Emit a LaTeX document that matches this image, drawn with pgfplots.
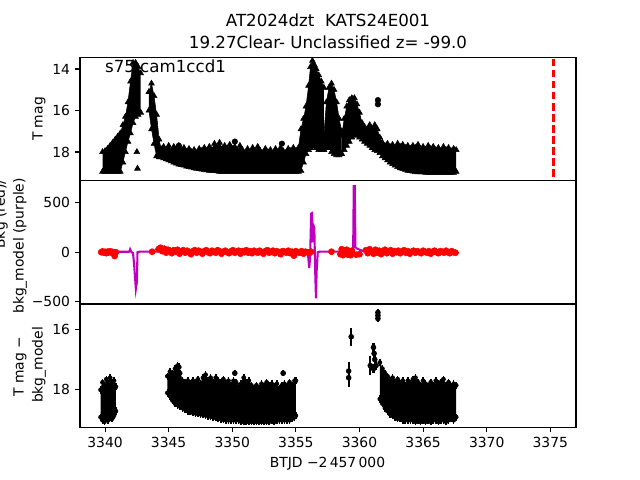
\documentclass[border=0pt]{standalone}
\usepackage{fontspec}
\setmainfont{DejaVu Sans}
\usepackage{pgfplots}
\pgfplotsset{compat=1.18}
\usepgfplotslibrary{fillbetween}
\usepackage{pgfplotstable}

\definecolor{mplm}{RGB}{191,0,191}

% panel 1: T mag, top/bottom envelope of the dense parts
\pgfplotstableread{
x t b
3339.8 18.0 18.95
3340.0 17.95 18.95
3340.2 17.85 18.95
3340.4 17.7 18.95
3340.6 17.55 18.95
3340.8 17.4 18.95
3341.0 17.25 18.95
3341.2 17.1 18.95
3341.4 16.7 18.5
3341.6 16.3 18.0
3341.8 15.6 17.5
3342.0 14.6 17.1
3342.2 13.7 16.6
3342.4 13.7 16.3
3342.6 13.9 16.2
3342.8 14.2 16.1
}\PoneA

\pgfplotstableread{
x t b
3343.45 15.1 16.0
3343.65 14.7 16.9
3343.85 15.3 17.6
3344.05 16.2 18.2
3344.25 17.4 18.25
3344.4 17.85 18.25
3344.6 17.75 18.3
3344.8 17.9 18.35
3345.0 17.7 18.4
3345.2 17.95 18.45
3345.4 17.75 18.5
3345.6 17.85 18.55
3345.8 17.7 18.6
3346.0 17.95 18.62
3346.2 17.8 18.65
3346.4 18.0 18.7
3346.6 17.85 18.72
3346.8 18.0 18.75
3347.0 17.9 18.78
3347.2 18.05 18.8
3347.4 17.85 18.82
3347.6 17.95 18.84
3347.8 17.8 18.86
3348.0 17.95 18.88
3348.2 17.75 18.9
3348.4 17.9 18.9
3348.6 17.6 18.92
3348.8 17.8 18.93
3349.0 17.55 18.95
3349.2 17.85 18.95
3349.4 17.7 18.95
3349.6 17.9 18.95
3349.8 17.65 18.95
3350.0 17.85 18.95
3350.2 17.75 18.95
3350.4 17.95 18.95
3350.6 17.7 18.95
3350.8 17.9 18.95
3351.0 18.05 18.95
3351.2 17.85 18.95
3351.4 18.1 18.95
3351.6 17.8 18.95
3351.8 18.0 18.95
3352.0 17.75 18.95
3352.2 17.95 18.95
3352.4 18.05 18.95
3352.6 17.85 18.95
3352.8 18.0 18.95
3353.0 17.9 18.95
3353.2 18.1 18.95
3353.4 17.85 18.95
3353.6 18.0 18.95
3353.8 17.8 18.95
3354.0 17.95 18.95
3354.2 18.05 18.95
3354.4 17.85 18.95
3354.6 17.95 18.95
3354.8 17.8 18.95
3355.0 17.95 18.95
3355.2 17.8 18.95
3355.4 16.9 18.9
3355.6 16.4 18.5
3355.8 15.8 18.1
3356.0 14.8 17.9
3356.15 13.9 17.8
3356.3 13.6 17.7
3356.45 13.8 17.7
3356.6 14.0 17.8
3356.8 14.3 17.9
3357.0 14.6 17.9
3357.2 14.9 17.9
}\PoneB

\pgfplotstableread{
x t b
3357.2 17.2 17.9
3357.4 15.6 17.8
3357.6 14.9 17.8
3357.8 14.7 18.0
3358.0 15.0 18.1
3358.2 15.6 18.15
3358.4 16.4 18.15
3358.6 17.0 18.1
}\PoneC

\pgfplotstableread{
x t b
3358.6 17.2 18.1
3358.8 16.4 17.9
3359.0 15.8 17.7
3359.2 15.5 17.5
3359.4 15.4 17.3
3359.6 15.4 17.2
3359.8 15.7 17.2
3360.0 16.1 17.3
3360.2 16.6 17.4
3360.4 16.8 17.5
3360.6 16.9 17.6
3360.8 16.7 17.7
3361.0 16.9 17.8
3361.2 16.7 17.9
3361.4 16.9 17.95
3361.6 17.3 18.05
3361.8 17.55 18.2
3362.0 17.7 18.3
3362.2 17.6 18.4
3362.4 17.75 18.5
3362.6 17.65 18.58
3362.8 17.8 18.65
3363.0 17.6 18.72
3363.2 17.75 18.78
3363.4 17.65 18.82
3363.6 17.8 18.86
3363.8 17.7 18.9
3364.0 17.85 18.92
3364.2 17.7 18.94
3364.4 17.8 18.96
3364.6 17.65 18.97
3364.8 17.85 18.98
3365.0 17.75 18.98
3365.2 17.9 19.0
3365.4 17.7 19.0
3365.6 17.85 19.0
3365.8 17.75 19.0
3366.0 17.9 19.0
3366.2 17.8 19.0
3366.4 17.95 19.0
3366.6 17.75 19.0
3366.8 17.9 19.0
3367.0 17.8 19.0
3367.2 17.95 19.0
3367.4 17.85 19.0
3367.6 17.9 18.95
}\PoneD

% panel 2: background flux (red)
\pgfplotstableread{
x y
3339.7 0
3339.8 8
3339.9 -5
3340.0 4
3340.1 -10
3340.2 6
3340.3 -2
3340.4 10
3340.5 -4
3340.6 3
3340.75 -38
3340.85 0
3343.7 5
3344.20 30
3344.35 45
3344.50 10
3344.65 35
3344.80 -5
3344.95 25
3345.10 15
3345.25 -10
3345.40 20
3345.55 5
3345.70 25
3345.85 -15
3346.00 10
3346.15 20
3346.30 -5
3346.45 15
3346.60 0
3346.75 -20
3346.90 10
3347.05 20
3347.20 -5
3347.35 15
3347.50 5
3347.65 -15
3347.80 10
3347.95 20
3348.10 0
3348.25 -10
3348.40 15
3348.55 5
3348.70 -5
3348.85 20
3349.00 10
3349.15 -15
3349.30 5
3349.45 15
3349.60 0
3349.75 -10
3349.90 10
3350.05 20
3350.20 -5
3350.35 5
3350.50 15
3350.65 -15
3350.80 10
3350.95 0
3351.10 20
3351.25 -5
3351.40 10
3351.55 -10
3351.70 15
3351.85 5
3352.00 -5
3352.15 15
3352.30 0
3352.45 -15
3352.60 10
3352.75 20
3352.90 -5
3353.05 5
3353.20 15
3353.35 -10
3353.50 10
3353.65 0
3353.80 -20
3353.95 10
3354.10 5
3354.25 -5
3354.40 15
3354.55 -10
3354.70 5
3354.85 -35
3355.00 10
3355.15 0
3355.30 -5
3355.45 10
3355.60 -15
3355.75 5
3355.90 0
3356.05 -10
3356.20 5
3357.8 5
3358.5 -20
3358.6 30
3358.7 -30
3358.8 20
3358.9 -10
3359.0 25
3359.1 -25
3359.2 10
3359.3 -30
3359.4 15
3359.75 -25
3360.0 -20
3360.50 20
3360.65 -10
3360.80 30
3360.95 5
3361.10 -15
3361.25 25
3361.40 -5
3361.55 15
3361.70 -20
3361.85 10
3362.00 25
3362.15 -10
3362.30 5
3362.45 20
3362.60 -15
3362.75 10
3362.90 0
3363.05 15
3363.20 -10
3363.35 5
3363.50 20
3363.65 -5
3363.80 10
3363.95 -15
3364.10 5
3364.25 15
3364.40 -5
3364.55 10
3364.70 0
3364.85 -10
3365.00 15
3365.15 5
3365.30 -5
3365.45 10
3365.60 -15
3365.75 5
3365.90 15
3366.05 0
3366.20 -10
3366.35 10
3366.50 5
3366.65 -5
3366.80 15
3366.95 0
3367.10 -10
3367.25 10
3367.40 0
3367.55 -5
}\Pred

% panel 3: T mag - bkg_model, envelopes of the dense parts
\pgfplotstableread{
x t b
3339.65 18.0 18.9
3339.8 17.75 19.0
3339.95 17.9 19.05
3340.1 17.65 18.95
3340.25 17.8 19.0
3340.4 17.6 18.9
3340.55 17.75 18.95
3340.7 17.7 18.85
3340.85 17.9 18.7
}\PthrL

\pgfplotstableread{
x t b
3344.9 17.55 18.1
3345.1 17.4 18.2
3345.3 17.45 18.35
3345.5 17.3 18.45
3345.7 17.2 18.5
3345.9 17.45 18.55
3346.1 17.7 18.6
3346.3 17.75 18.65
3346.5 17.7 18.7
3346.7 17.8 18.72
3346.9 17.7 18.75
3347.1 17.75 18.77
3347.3 17.65 18.79
3347.5 17.8 18.8
3347.7 17.6 18.82
3347.9 17.5 18.84
3348.1 17.7 18.86
3348.3 17.6 18.88
3348.5 17.75 18.9
3348.7 17.6 18.92
3348.9 17.7 18.94
3349.1 17.75 18.96
3349.3 17.65 18.98
3349.5 17.8 19.0
3349.7 17.7 19.0
3349.9 17.85 19.0
3350.1 17.7 19.0
3350.3 17.75 19.0
3350.5 17.9 19.0
3350.7 17.8 19.05
3350.9 17.6 19.05
3351.1 17.75 19.05
3351.3 17.7 19.05
3351.5 17.85 19.05
3351.7 17.95 19.05
3351.9 17.85 19.05
3352.1 17.95 19.05
3352.3 17.8 19.05
3352.5 17.9 19.05
3352.7 17.75 19.05
3352.9 17.85 19.05
3353.1 17.8 19.0
3353.3 17.9 19.05
3353.5 17.8 19.0
3353.7 17.95 19.0
3353.9 17.85 19.0
3354.1 17.8 19.0
3354.3 17.9 19.0
3354.5 17.75 19.0
3354.7 17.85 18.95
3354.9 17.7 18.9
3355.0 17.7 18.85
}\PthrM

\pgfplotstableread{
x t b
3361.6 17.1 18.3
3361.8 17.3 18.45
3362.0 17.45 18.6
3362.2 17.55 18.7
3362.4 17.7 18.8
3362.6 17.6 18.85
3362.8 17.75 18.9
3363.0 17.65 18.95
3363.2 17.8 18.95
3363.4 17.7 19.0
3363.6 17.85 19.0
3363.8 17.7 19.0
3364.0 17.8 19.0
3364.2 17.65 19.0
3364.4 17.6 19.05
3364.6 17.75 19.0
3364.8 17.85 19.05
3365.0 17.7 19.0
3365.2 17.8 19.05
3365.4 17.9 19.0
3365.6 17.75 19.05
3365.8 17.85 19.0
3366.0 17.7 19.0
3366.2 17.8 19.05
3366.4 17.75 19.0
3366.6 17.65 19.0
3366.8 17.85 19.05
3367.0 17.75 19.0
3367.2 17.9 18.95
3367.4 17.8 19.0
3367.6 17.85 18.9
}\PthrR

\pgfplotstableread{
x y e
3345.8 17.25 0.12
3350.2 17.45 0.1
3354.0 17.45 0.1
3359.15 17.38 0.3
3359.15 17.6 0.3
3359.35 16.25 0.3
3360.85 17.2 0.3
3361.1 16.6 0.15
3361.15 16.8 0.15
3361.2 17.0 0.15
3361.1 17.3 0.15
3361.3 17.2 0.15
3361.45 15.45 0.1
3361.45 15.55 0.1
3361.45 15.65 0.1
}\PthrI

\pgfplotsset{panel/.style={
  scale only axis, width=357.12pt, height=88.704pt, anchor=south west,
  xmin=3338.03, xmax=3377.02,
  tick align=outside, tick pos=left, major tick length=3.5pt,
  tick style={black, line width=0.8pt},
  axis line style={line width=0.8pt},
  tick label style={font=\fontsize{10}{12}\selectfont, inner sep=0pt},
  /pgf/number format/assume math mode=true, /pgf/number format/1000 sep={},
  xtick={3340,3345,...,3375}, xticklabel shift=3.5pt, yticklabel shift=3.5pt},
  band/.style={black, line width=0.4pt, mark=triangle*, mark size=2.4pt},
  band3/.style={black, line width=0.4pt, mark=*, mark size=1.5pt,
    error bars/y dir=both, error bars/y fixed=0.12, error bars/error mark=none,
    error bars/error bar style={line width=1.2pt}}}

\begin{document}
\begin{tikzpicture}

\begin{axis}[panel, at={(57.6pt,215.424pt)}, y dir=reverse,
  ymin=13.45, ymax=19.39, ytick={14,16,18}, xtick=\empty]
  \addplot[band, name path=ta] table[x=x,y=t] {\PoneA};
  \addplot[band, name path=ba] table[x=x,y=b] {\PoneA};
  \addplot[black] fill between[of=ta and ba];
  \addplot[band, name path=tb] table[x=x,y=t] {\PoneB};
  \addplot[band, name path=bb] table[x=x,y=b] {\PoneB};
  \addplot[black] fill between[of=tb and bb];
  \addplot[band, name path=tc] table[x=x,y=t] {\PoneC};
  \addplot[band, name path=bc] table[x=x,y=b] {\PoneC};
  \addplot[black] fill between[of=tc and bc];
  \addplot[band, name path=td] table[x=x,y=t] {\PoneD};
  \addplot[band, name path=bd] table[x=x,y=b] {\PoneD};
  \addplot[black] fill between[of=td and bd];
  \addplot[only marks, black, mark=triangle*, mark size=2.4pt] coordinates {(3342.5,18.0)(3342.55,18.8)(3356.3,16.8)(3356.35,17.7)};
  \addplot[only marks, black, mark=*, mark size=2pt] coordinates {(3345.8,17.7)(3350.2,17.5)(3353.9,17.6)(3361.45,15.5)(3361.45,15.7)};
  \addplot[red, line width=1.5pt, dash pattern=on 5.55pt off 2.4pt] coordinates {(3375.25,13.5)(3375.25,19.3)};
  \node[anchor=north west, inner sep=0pt, font=\fontsize{12}{14}\selectfont] at (axis description cs:0.05,0.986) {s75 cam1ccd1};
\end{axis}

\begin{axis}[panel, at={(57.6pt,126.72pt)},
  ymin=-523, ymax=721, ytick={-500,0,500}, yticklabels={−500,0,500}, xtick=\empty]
  \addplot[only marks, red, mark=*, mark size=2.2pt] table[x=x,y=y] {\Pred};
  \addplot[mplm, line width=1.5pt] coordinates {(3339.7,3)(3341.9,5)(3341.97,30)(3342.05,5)(3342.2,-10)(3342.3,-150)(3342.42,-370)(3342.5,-300)(3342.55,0)(3342.7,5)(3355.7,8)(3355.95,-20)(3356.05,-160)(3356.12,-50)(3356.2,390)(3356.27,395)(3356.33,100)(3356.38,270)(3356.45,250)(3356.52,-200)(3356.58,-466)(3356.63,-200)(3356.72,0)(3356.85,5)(3358.5,5)(3358.55,-10)(3359.5,-5)(3359.55,668)(3359.63,668)(3359.68,50)(3359.8,37)(3360.2,15)(3361,8)(3367.6,5)};
\end{axis}

\begin{axis}[panel, at={(57.6pt,38.016pt)}, y dir=reverse,
  ymin=15.17, ymax=19.23, ytick={16,18}]
  \addplot[band3, name path=tl] table[x=x,y=t] {\PthrL};
  \addplot[band3, name path=bl] table[x=x,y=b] {\PthrL};
  \addplot[black] fill between[of=tl and bl];
  \addplot[band3, name path=tm] table[x=x,y=t] {\PthrM};
  \addplot[band3, name path=bm] table[x=x,y=b] {\PthrM};
  \addplot[black] fill between[of=tm and bm];
  \addplot[band3, name path=tr] table[x=x,y=t] {\PthrR};
  \addplot[band3, name path=br] table[x=x,y=b] {\PthrR};
  \addplot[black] fill between[of=tr and br];
  \addplot[only marks, black, mark=*, mark size=1.8pt,
    error bars/.cd, y dir=both, y explicit, error mark=none,
    error bar style={line width=1.5pt}] table[x=x,y=y,y error=e] {\PthrI};
\end{axis}

\node[font=\fontsize{12}{14}\selectfont] at (236.16pt,331.2pt) {AT2024dzt\ \ KATS24E001};
\node[font=\fontsize{12}{14}\selectfont] at (236.16pt,315.36pt) {19.27Clear- Unclassified z= -99.0};
\node[anchor=base, font=\fontsize{10}{12}\selectfont] at (235.8pt,9pt) {BTJD −2\,457\,000};
\node[rotate=90, font=\fontsize{10}{12}\selectfont] at (28.1pt,259.9pt) {T mag};
\node[rotate=90, font=\fontsize{10}{12}\selectfont] at (0.72pt,191.5pt) {Bkg (red)/};
\node[rotate=90, font=\fontsize{10}{12}\selectfont] at (14.4pt,168.5pt) {bkg\_model (purple)};
\node[rotate=90, font=\fontsize{10}{12}\selectfont] at (14.4pt,81.4pt) {T mag −};
\node[rotate=90, font=\fontsize{10}{12}\selectfont] at (28.1pt,82.8pt) {bkg\_model};

\pgfresetboundingbox
\path (0,0) rectangle (460.8pt,345.6pt);
\end{tikzpicture}
\end{document}
